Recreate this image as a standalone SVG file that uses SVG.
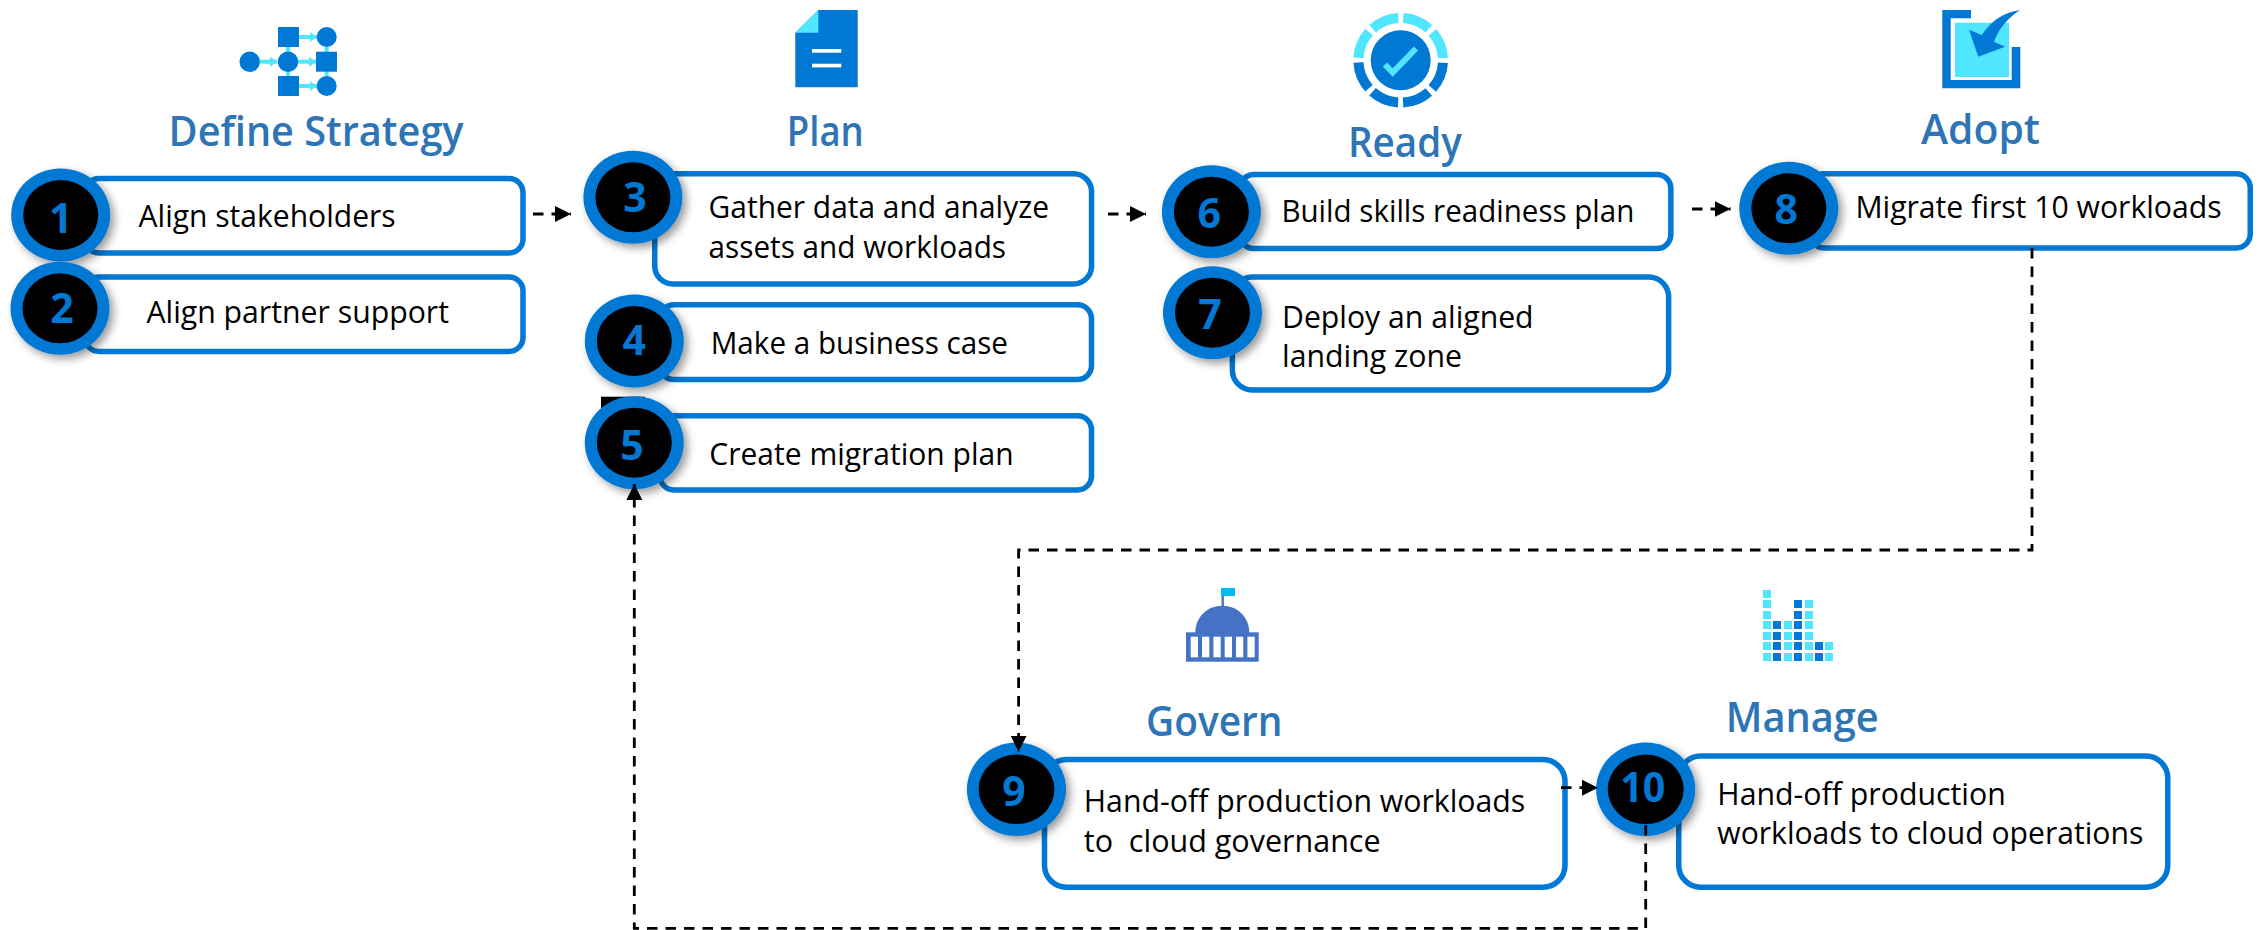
<svg xmlns="http://www.w3.org/2000/svg" width="2264" height="930" viewBox="0 0 2264 930">
<style>
text{font-family:"Open Sans","Noto Sans","Liberation Sans",sans-serif}
.box{fill:#fff;stroke:#0078D4;stroke-width:5.5}
.ring{fill:#0078D4;filter:url(#shadow)}
.hole{fill:#000}
.num{font-size:41px;font-weight:700;fill:#0078D4;text-anchor:middle}
.label{font-size:30.5px;fill:#000}
.title{font-size:42px;font-weight:600;fill:#2E75B6}
.blue{fill:#0078D4}
.cyan{fill:#50E6FF}
.cl{stroke:#50E6FF;stroke-width:4;fill:none}
.seg{fill:none;stroke-width:10;stroke-dasharray:28.22 5;stroke-dashoffset:-2.5}
.gov{fill:#4472C4}
.win{fill:#fff}
.conn{fill:none;stroke:#000;stroke-width:2.8;stroke-dasharray:10.5 8;marker-end:url(#head)}
</style>
<defs>
<filter id="shadow" x="-30%" y="-30%" width="170%" height="170%">
<feDropShadow dx="4" dy="4" stdDeviation="4" flood-color="#000" flood-opacity="0.4"/>
</filter>
<marker id="head" markerUnits="userSpaceOnUse" markerWidth="17" markerHeight="17" refX="16" refY="8.5" orient="auto">
<path d="M0 0.5 L16 8.5 L0 16.5Z" fill="#000"/>
</marker>
<marker id="mini" markerUnits="userSpaceOnUse" markerWidth="8" markerHeight="12" refX="7" refY="6" orient="auto">
<path d="M0 1 L7 6 L0 11Z" fill="#50E6FF"/>
</marker>
</defs>
<rect width="2264" height="930" fill="#fff"/>

<g id="phase-define">
<path class="cl" marker-end="url(#mini)" d="M260 61.7H277"/>
<path class="cl" marker-end="url(#mini)" d="M298 61.7H316"/>
<path class="cl" marker-end="url(#mini)" d="M299 37H317"/>
<path class="cl" marker-end="url(#mini)" d="M299 86H317"/>
<path class="cl" d="M288 47V76M326.7 47V76"/>
<rect class="blue" x="278" y="27" width="21" height="20"/>
<circle class="blue" cx="326.7" cy="37" r="10"/>
<circle class="blue" cx="249.7" cy="61.7" r="10.2"/>
<circle class="blue" cx="288" cy="61.7" r="10.2"/>
<rect class="blue" x="316" y="51.7" width="21" height="20"/>
<rect class="blue" x="278" y="76" width="21" height="20"/>
<circle class="blue" cx="326.7" cy="86" r="10"/>
<text class="title" x="168.6" y="146" textLength="295" lengthAdjust="spacingAndGlyphs">Define Strategy</text>
</g>

<g id="step-1">
<rect class="box" x="85" y="178.5" width="438" height="74.5" rx="14"/>
<ellipse class="ring" cx="60.7" cy="215" rx="49.5" ry="46.5"/>
<ellipse class="hole" cx="60.7" cy="215" rx="37.5" ry="35"/>
<text class="num" x="60.7" y="232.7">1</text>
<text class="label" x="138.6" y="226.7" textLength="257" lengthAdjust="spacingAndGlyphs">Align stakeholders</text>
</g>
<g id="step-2">
<rect class="box" x="85" y="277" width="438" height="74.5" rx="14"/>
<ellipse class="ring" cx="60" cy="308.3" rx="49.5" ry="46.5"/>
<ellipse class="hole" cx="60" cy="308.3" rx="37.5" ry="35"/>
<text class="num" x="62" y="322.7">2</text>
<text class="label" x="146.4" y="323.3" textLength="302.6" lengthAdjust="spacingAndGlyphs">Align partner support</text>
</g>

<g id="phase-plan">
<path class="blue" d="M818.3 10H857.7V87.3H795.3V32.7Z"/>
<path class="cyan" d="M818.3 10V32.7H795.3Z"/>
<rect class="win" x="812" y="49" width="29.3" height="3.7"/>
<rect class="win" x="812" y="63.7" width="29.3" height="3.7"/>
<text class="title" x="786.8" y="146" textLength="77" lengthAdjust="spacingAndGlyphs">Plan</text>
</g>

<g id="step-3">
<rect class="box" x="654.75" y="173.75" width="436.8" height="110.2" rx="18"/>
<ellipse class="ring" cx="632.9" cy="197.3" rx="49.5" ry="46.5"/>
<ellipse class="hole" cx="632.9" cy="197.3" rx="37.5" ry="35"/>
<text class="num" x="635" y="211.5">3</text>
<text class="label" x="708.6" y="218.3" textLength="340.4" lengthAdjust="spacingAndGlyphs">Gather data and analyze</text>
<text class="label" x="708.6" y="258.3" textLength="297.4" lengthAdjust="spacingAndGlyphs">assets and workloads</text>
</g>
<g id="step-4">
<rect class="box" x="660" y="304.75" width="431.5" height="74.8" rx="14"/>
<ellipse class="ring" cx="634.3" cy="341" rx="49.5" ry="46.5"/>
<ellipse class="hole" cx="634.3" cy="341" rx="37.5" ry="35"/>
<text class="num" x="634.3" y="355">4</text>
<text class="label" x="710.7" y="354.3" textLength="297.3" lengthAdjust="spacingAndGlyphs">Make a business case</text>
</g>
<g id="step-5">
<rect x="601" y="396.7" width="44" height="20" fill="#000"/>
<rect class="box" x="660" y="415.75" width="431.5" height="74.2" rx="14"/>
<ellipse class="ring" cx="634.3" cy="442.7" rx="49.5" ry="46.5"/>
<ellipse class="hole" cx="634.3" cy="442.7" rx="37.5" ry="35"/>
<text class="num" x="632" y="460">5</text>
<text class="label" x="709.3" y="465" textLength="304.3" lengthAdjust="spacingAndGlyphs">Create migration plan</text>
</g>

<g id="phase-ready">
<path class="seg" stroke="#50E6FF" d="M1358.4 60.3A42.3 42.3 0 0 1 1443 60.3"/>
<path class="seg" stroke="#0078D4" d="M1443 60.3A42.3 42.3 0 0 1 1358.4 60.3"/>
<circle class="blue" cx="1400.7" cy="60.3" r="30"/>
<path d="M1385 64.5L1392.7 72.5L1416 48.5" fill="none" stroke="#50E6FF" stroke-width="6"/>
<text class="title" x="1347.9" y="156.7" textLength="114" lengthAdjust="spacingAndGlyphs">Ready</text>
</g>

<g id="step-6">
<rect class="box" x="1240" y="174.45" width="430.85" height="74.1" rx="14"/>
<ellipse class="ring" cx="1211.4" cy="211.7" rx="49.5" ry="46.5"/>
<ellipse class="hole" cx="1211.4" cy="211.7" rx="37.5" ry="35"/>
<text class="num" x="1209.3" y="228.3">6</text>
<text class="label" x="1281.4" y="221.7" textLength="353" lengthAdjust="spacingAndGlyphs">Build skills readiness plan</text>
</g>
<g id="step-7">
<rect class="box" x="1232.35" y="277" width="436.3" height="113" rx="20"/>
<ellipse class="ring" cx="1212.5" cy="312.7" rx="49.5" ry="46.5"/>
<ellipse class="hole" cx="1212.5" cy="312.7" rx="37.5" ry="35"/>
<text class="num" x="1210" y="329.3">7</text>
<text class="label" x="1282" y="328.3" textLength="251.6" lengthAdjust="spacingAndGlyphs">Deploy an aligned</text>
<text class="label" x="1282" y="367" textLength="180" lengthAdjust="spacingAndGlyphs">landing zone</text>
</g>

<g id="phase-adopt">
<rect class="cyan" x="1955" y="22.7" width="54" height="54.3"/>
<path class="blue" d="M1942.3 10H1971V18.3H1950.7V80H2011.7V47H2020.3V88.3H1942.3Z"/>
<path class="blue" d="M2020 10C2003 13 1992 20 1981.7 35L1969 29.7L1978.3 56.7L2005 46.7L1994 41.7C1999 28 2008 18 2020 10Z"/>
<text class="title" x="1921" y="144" textLength="119" lengthAdjust="spacingAndGlyphs">Adopt</text>
</g>

<g id="step-8">
<rect class="box" x="1810" y="173.75" width="440.25" height="74.2" rx="14"/>
<ellipse class="ring" cx="1788.8" cy="208.3" rx="49.5" ry="46.5"/>
<ellipse class="hole" cx="1788.8" cy="208.3" rx="37.5" ry="35"/>
<text class="num" x="1786.3" y="224">8</text>
<text class="label" x="1855.4" y="218.3" textLength="366.2" lengthAdjust="spacingAndGlyphs">Migrate first 10 workloads</text>
</g>

<g id="phase-govern">
<rect x="1221" y="588" width="14" height="8" fill="#00BCF2"/>
<rect class="gov" x="1221.5" y="596" width="2.4" height="11"/>
<path class="gov" d="M1195.3 633C1195.3 617 1207 605.7 1222.3 605.7S1249.3 617 1249.3 633Z"/>
<rect class="gov" x="1186" y="632.3" width="72.7" height="29.4"/>
<g class="win">
<rect x="1190.7" y="636.7" width="7.3" height="20.6"/>
<rect x="1202" y="636.7" width="7.3" height="20.6"/>
<rect x="1213.4" y="636.7" width="7.3" height="20.6"/>
<rect x="1224.7" y="636.7" width="7.3" height="20.6"/>
<rect x="1236" y="636.7" width="7.3" height="20.6"/>
<rect x="1247.4" y="636.7" width="7.3" height="20.6"/>
</g>
<text class="title" x="1146" y="736" textLength="136.5" lengthAdjust="spacingAndGlyphs">Govern</text>
</g>

<g id="step-9">
<rect class="box" x="1044.5" y="759.5" width="520.5" height="127.75" rx="22"/>
<ellipse class="ring" cx="1016.5" cy="789.3" rx="49.6" ry="46.7"/>
<ellipse class="hole" cx="1016.5" cy="789.3" rx="37.9" ry="34.8"/>
<text class="num" x="1014" y="806">9</text>
<text class="label" x="1083.8" y="811.7" textLength="441.5" lengthAdjust="spacingAndGlyphs">Hand-off production workloads</text>
<text class="label" x="1083.8" y="851.7" textLength="296.8" lengthAdjust="spacingAndGlyphs" xml:space="preserve">to  cloud governance</text>
</g>

<g id="phase-manage">
<g class="cyan">
<rect x="1763" y="590" width="8" height="8"/><rect x="1763" y="600" width="8" height="8"/><rect x="1763" y="611" width="8" height="8"/><rect x="1763" y="621" width="8" height="8"/><rect x="1763" y="632" width="8" height="8"/><rect x="1763" y="642" width="8" height="8"/><rect x="1763" y="653" width="8" height="8"/>
<rect x="1784" y="621" width="8" height="8"/><rect x="1784" y="632" width="8" height="8"/><rect x="1784" y="642" width="8" height="8"/><rect x="1784" y="653" width="8" height="8"/>
<rect x="1805" y="600" width="8" height="8"/><rect x="1805" y="611" width="8" height="8"/><rect x="1805" y="621" width="8" height="8"/><rect x="1805" y="632" width="8" height="8"/><rect x="1805" y="642" width="8" height="8"/><rect x="1805" y="653" width="8" height="8"/>
<rect x="1825" y="642" width="8" height="8"/><rect x="1825" y="653" width="8" height="8"/>
</g>
<g class="blue">
<rect x="1773" y="621" width="8" height="8"/><rect x="1773" y="632" width="8" height="8"/><rect x="1773" y="642" width="8" height="8"/><rect x="1773" y="653" width="8" height="8"/>
<rect x="1794" y="600" width="8" height="8"/><rect x="1794" y="611" width="8" height="8"/><rect x="1794" y="621" width="8" height="8"/><rect x="1794" y="632" width="8" height="8"/><rect x="1794" y="642" width="8" height="8"/><rect x="1794" y="653" width="8" height="8"/>
<rect x="1815" y="642" width="8" height="8"/><rect x="1815" y="653" width="8" height="8"/>
</g>
<text class="title" x="1725.8" y="731.7" textLength="153" lengthAdjust="spacingAndGlyphs">Manage</text>
</g>

<g id="step-10">
<rect class="box" x="1678.75" y="756" width="489" height="131.25" rx="22"/>
<ellipse class="ring" cx="1645.7" cy="789.3" rx="49.6" ry="46.7"/>
<ellipse class="hole" cx="1645.7" cy="789.3" rx="38" ry="34.8"/>
<text class="num" x="1642.8" y="802.3" textLength="45" lengthAdjust="spacingAndGlyphs">10</text>
<text class="label" x="1717.3" y="805" textLength="288.5" lengthAdjust="spacingAndGlyphs">Hand-off production</text>
<text class="label" x="1717.3" y="843.8" textLength="426" lengthAdjust="spacingAndGlyphs">workloads to cloud operations</text>
</g>

<g id="connectors">
<path class="conn" d="M533 214H571"/>
<path class="conn" d="M1108 214H1146"/>
<path class="conn" d="M1692 209H1730.6"/>
<path class="conn" d="M2032 248V550H1018.6V751.7"/>
<path class="conn" d="M1561 787.7H1598"/>
<path class="conn" d="M1645.7 825V928.3H634.3V484"/>
</g>
</svg>
